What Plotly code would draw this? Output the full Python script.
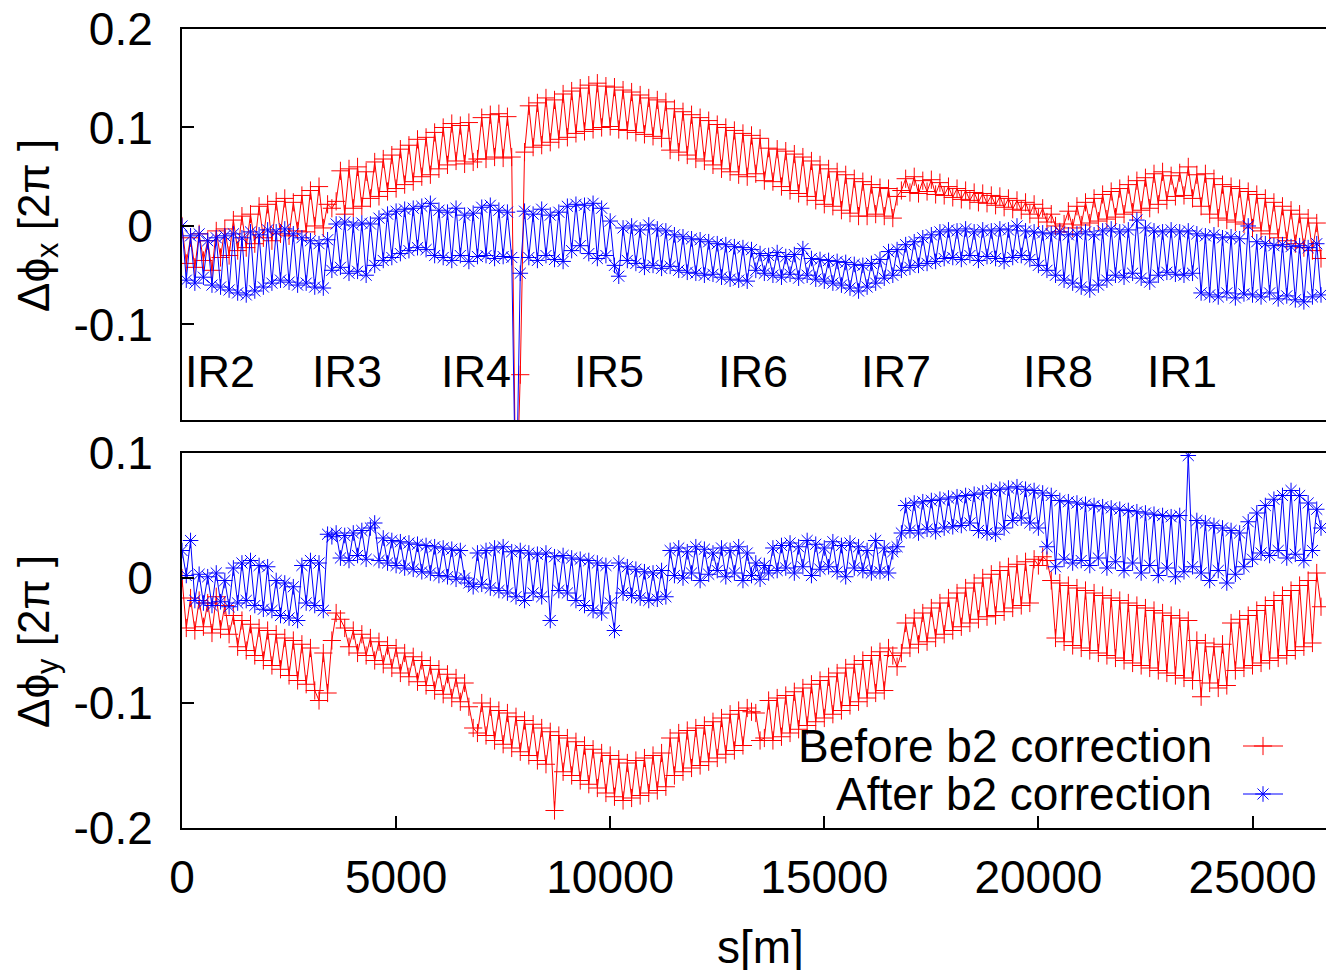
import plotly.graph_objects as go

# ---------------- data ----------------
s = [0, 100, 200, 300, 400, 500, 600, 700, 800, 900,
     1000, 1100, 1200, 1300, 1400, 1500, 1600, 1700, 1800, 1900,
     2000, 2100, 2200, 2300, 2400, 2500, 2600, 2700, 2800, 2900,
     3000, 3100, 3200, 3300, 3400, 3500, 3600, 3700, 3800, 3900,
     4000, 4100, 4200, 4300, 4400, 4500, 4600, 4700, 4800, 4900,
     5000, 5100, 5200, 5300, 5400, 5500, 5600, 5700, 5800, 5900,
     6000, 6100, 6200, 6300, 6400, 6500, 6600, 6700, 6800, 6900,
     7000, 7100, 7200, 7300, 7400, 7500, 7600, 7700, 7800, 7900,
     8000, 8100, 8200, 8300, 8400, 8500, 8600, 8700, 8800, 8900,
     9000, 9100, 9200, 9300, 9400, 9500, 9600, 9700, 9800, 9900,
     10000, 10100, 10200, 10300, 10400, 10500, 10600, 10700, 10800, 10900,
     11000, 11100, 11200, 11300, 11400, 11500, 11600, 11700, 11800, 11900,
     12000, 12100, 12200, 12300, 12400, 12500, 12600, 12700, 12800, 12900,
     13000, 13100, 13200, 13300, 13400, 13500, 13600, 13700, 13800, 13900,
     14000, 14100, 14200, 14300, 14400, 14500, 14600, 14700, 14800, 14900,
     15000, 15100, 15200, 15300, 15400, 15500, 15600, 15700, 15800, 15900,
     16000, 16100, 16200, 16300, 16400, 16500, 16600, 16700, 16800, 16900,
     17000, 17100, 17200, 17300, 17400, 17500, 17600, 17700, 17800, 17900,
     18000, 18100, 18200, 18300, 18400, 18500, 18600, 18700, 18800, 18900,
     19000, 19100, 19200, 19300, 19400, 19500, 19600, 19700, 19800, 19900,
     20000, 20100, 20200, 20300, 20400, 20500, 20600, 20700, 20800, 20900,
     21000, 21100, 21200, 21300, 21400, 21500, 21600, 21700, 21800, 21900,
     22000, 22100, 22200, 22300, 22400, 22500, 22600, 22700, 22800, 22900,
     23000, 23100, 23200, 23300, 23400, 23500, 23600, 23700, 23800, 23900,
     24000, 24100, 24200, 24300, 24400, 24500, 24600, 24700, 24800, 24900,
     25000, 25100, 25200, 25300, 25400, 25500, 25600, 25700, 25800, 25900,
     26000, 26100, 26200, 26300, 26400, 26500, 26600]

# horizontal phase beat, before b2 correction
dphix_before = [
    0.000, -0.038, -0.012, -0.042, -0.008, -0.035, -0.015, -0.045, -0.005, -0.032,
    -0.003, -0.030, 0.006, -0.025, 0.010, -0.022, 0.012, -0.018, 0.020, -0.012,
    0.022, -0.015, 0.025, -0.008, 0.028, -0.010, 0.024, -0.005, 0.031, -0.006,
    0.036, 0.000, 0.040, -0.002, 0.022, 0.018, 0.025, 0.056, 0.012, 0.058,
    0.018, 0.060, 0.020, 0.055, 0.028, 0.065, 0.030, 0.068, 0.035, 0.072,
    0.038, 0.078, 0.042, 0.082, 0.045, 0.088, 0.050, 0.090, 0.052, 0.095,
    0.058, 0.100, 0.062, 0.104, 0.066, 0.102, 0.063, 0.105, 0.065, 0.068,
    0.110, 0.068, 0.113, 0.070, 0.114, 0.069, 0.111, 0.070, -0.300, -0.151,
    0.075, 0.122, 0.080, 0.125, 0.082, 0.130, 0.085, 0.128, 0.088, 0.134,
    0.090, 0.137, 0.094, 0.140, 0.096, 0.143, 0.098, 0.145, 0.100, 0.142,
    0.101, 0.141, 0.098, 0.138, 0.097, 0.136, 0.095, 0.133, 0.093, 0.130,
    0.091, 0.128, 0.089, 0.126, 0.077, 0.119, 0.075, 0.116, 0.072, 0.113,
    0.068, 0.110, 0.066, 0.107, 0.062, 0.103, 0.058, 0.100, 0.055, 0.097,
    0.052, 0.094, 0.050, 0.092, 0.053, 0.089, 0.046, 0.079, 0.045, 0.078,
    0.040, 0.076, 0.036, 0.073, 0.033, 0.070, 0.030, 0.066, 0.026, 0.062,
    0.022, 0.058, 0.020, 0.055, 0.016, 0.052, 0.013, 0.048, 0.010, 0.045,
    0.010, 0.042, 0.012, 0.039, 0.010, 0.038, 0.008, 0.030, 0.036, 0.048,
    0.034, 0.050, 0.033, 0.046, 0.035, 0.047, 0.032, 0.044, 0.031, 0.040,
    0.029, 0.038, 0.027, 0.036, 0.026, 0.034, 0.024, 0.033, 0.023, 0.031,
    0.021, 0.030, 0.019, 0.028, 0.017, 0.026, 0.016, 0.024, 0.012, 0.022,
    0.008, 0.018, 0.004, 0.012, 0.000, -0.006, 0.002, 0.015, -0.002, 0.020,
    0.001, 0.024, 0.003, 0.028, 0.005, 0.032, 0.007, 0.035, 0.009, 0.038,
    0.012, 0.042, 0.014, 0.046, 0.016, 0.049, 0.018, 0.053, 0.022, 0.055,
    0.026, 0.051, 0.030, 0.054, 0.031, 0.060, 0.028, 0.052, 0.020, 0.053,
    0.012, 0.048, 0.008, 0.042, 0.006, 0.040, 0.004, 0.038, 0.002, 0.035,
    -0.002, 0.032, -0.005, 0.028, -0.008, 0.024, -0.012, 0.020, -0.015, 0.016,
    -0.018, 0.012, -0.022, 0.008, -0.025, 0.003, -0.033]

# horizontal phase beat, after b2 correction
dphix_after = [
    0.000, -0.055, -0.010, -0.058, -0.008, -0.052, -0.015, -0.060, -0.012, -0.062,
    -0.010, -0.065, -0.008, -0.068, -0.012, -0.070, -0.006, -0.066, -0.009, -0.062,
    -0.004, -0.058, -0.006, -0.055, -0.003, -0.057, -0.008, -0.060, -0.012, -0.058,
    -0.015, -0.062, -0.018, -0.063, -0.014, -0.045, 0.002, -0.042, 0.004, -0.048,
    0.001, -0.046, 0.003, -0.050, 0.002, -0.040, 0.008, -0.035, 0.012, -0.032,
    0.015, -0.028, 0.017, -0.025, 0.018, -0.022, 0.020, -0.024, 0.023, -0.030,
    0.016, -0.032, 0.014, -0.035, 0.018, -0.030, 0.011, -0.036, 0.013, -0.031,
    0.019, -0.030, 0.021, -0.033, 0.016, -0.031, 0.014, -0.032, -0.300, -0.048,
    0.015, -0.032, 0.012, -0.035, 0.017, -0.030, 0.011, -0.034, 0.014, -0.036,
    0.020, -0.025, 0.022, -0.020, 0.021, -0.028, 0.023, -0.033, 0.018, -0.030,
    0.005, -0.040, -0.051, -0.002, -0.035, 0.000, -0.038, -0.004, -0.042, 0.001,
    -0.040, -0.003, -0.043, -0.005, -0.041, -0.009, -0.045, -0.011, -0.047, -0.013,
    -0.048, -0.014, -0.050, -0.016, -0.049, -0.018, -0.052, -0.019, -0.054, -0.021,
    -0.055, -0.022, -0.056, -0.024, -0.045, -0.028, -0.048, -0.030, -0.050, -0.027,
    -0.052, -0.031, -0.049, -0.029, -0.053, -0.023, -0.050, -0.033, -0.054, -0.034,
    -0.056, -0.035, -0.058, -0.036, -0.060, -0.037, -0.063, -0.039, -0.066, -0.040,
    -0.062, -0.038, -0.058, -0.034, -0.053, -0.026, -0.050, -0.024, -0.045, -0.019,
    -0.042, -0.016, -0.040, -0.012, -0.038, -0.009, -0.036, -0.006, -0.033, -0.004,
    -0.032, -0.005, -0.034, -0.003, -0.030, -0.006, -0.035, -0.004, -0.031, -0.005,
    -0.033, -0.003, -0.036, -0.004, -0.032, 0.000, -0.030, -0.005, -0.034, -0.006,
    -0.040, -0.007, -0.045, -0.008, -0.050, -0.006, -0.055, -0.009, -0.058, -0.008,
    -0.062, -0.006, -0.065, -0.009, -0.060, -0.005, -0.055, -0.003, -0.050, -0.006,
    -0.052, -0.004, -0.048, 0.006, -0.053, -0.002, -0.057, -0.005, -0.050, -0.006,
    -0.047, -0.004, -0.049, -0.006, -0.050, -0.005, -0.048, -0.008, -0.068, -0.010,
    -0.070, -0.009, -0.072, -0.012, -0.068, -0.011, -0.073, -0.013, -0.069, 0.000,
    -0.070, -0.016, -0.072, -0.018, -0.068, -0.020, -0.074, -0.019, -0.071, -0.021,
    -0.075, -0.020, -0.077, -0.022, -0.072, -0.018, -0.070]

# vertical phase beat, before b2 correction
dphiy_before = [
    0.000, -0.040, -0.016, -0.042, -0.018, -0.039, -0.020, -0.044, -0.015, -0.041,
    -0.022, -0.045, -0.030, -0.055, -0.034, -0.058, -0.037, -0.062, -0.040, -0.066,
    -0.042, -0.070, -0.045, -0.073, -0.048, -0.078, -0.050, -0.082, -0.053, -0.085,
    -0.056, -0.090, -0.098, -0.060, -0.092, -0.050, -0.028, -0.033, -0.040, -0.055,
    -0.042, -0.060, -0.045, -0.062, -0.048, -0.066, -0.051, -0.069, -0.054, -0.072,
    -0.056, -0.076, -0.060, -0.079, -0.063, -0.083, -0.066, -0.086, -0.070, -0.090,
    -0.073, -0.093, -0.077, -0.096, -0.080, -0.099, -0.084, -0.103, -0.120, -0.124,
    -0.100, -0.126, -0.103, -0.130, -0.106, -0.133, -0.108, -0.136, -0.111, -0.139,
    -0.114, -0.142, -0.117, -0.146, -0.120, -0.149, -0.123, -0.186, -0.126, -0.155,
    -0.128, -0.158, -0.131, -0.162, -0.134, -0.165, -0.137, -0.168, -0.140, -0.172,
    -0.142, -0.175, -0.145, -0.178, -0.148, -0.176, -0.146, -0.174, -0.144, -0.172,
    -0.142, -0.170, -0.140, -0.167, -0.128, -0.158, -0.124, -0.155, -0.122, -0.152,
    -0.120, -0.150, -0.118, -0.147, -0.115, -0.144, -0.112, -0.141, -0.109, -0.138,
    -0.106, -0.134, -0.104, -0.107, -0.108, -0.130, -0.128, -0.098, -0.130, -0.096,
    -0.127, -0.094, -0.124, -0.091, -0.121, -0.088, -0.118, -0.085, -0.115, -0.082,
    -0.112, -0.079, -0.109, -0.076, -0.106, -0.072, -0.102, -0.069, -0.099, -0.066,
    -0.096, -0.062, -0.092, -0.059, -0.090, -0.056, -0.062, -0.071, -0.060, -0.036,
    -0.056, -0.032, -0.053, -0.028, -0.051, -0.024, -0.048, -0.020, -0.045, -0.016,
    -0.042, -0.012, -0.039, -0.008, -0.036, -0.004, -0.033, 0.000, -0.031, 0.003,
    -0.030, 0.006, -0.027, 0.009, -0.024, 0.011, -0.022, 0.013, -0.020, 0.015,
    0.010, 0.017, 0.014, -0.002, -0.048, -0.004, -0.051, -0.006, -0.054, -0.008,
    -0.056, -0.010, -0.058, -0.012, -0.060, -0.014, -0.062, -0.016, -0.064, -0.018,
    -0.066, -0.020, -0.068, -0.022, -0.070, -0.024, -0.072, -0.026, -0.074, -0.028,
    -0.076, -0.030, -0.078, -0.032, -0.080, -0.034, -0.082, -0.050, -0.095, -0.052,
    -0.084, -0.055, -0.088, -0.053, -0.086, -0.036, -0.074, -0.033, -0.072, -0.030,
    -0.070, -0.026, -0.068, -0.022, -0.066, -0.018, -0.064, -0.014, -0.062, -0.010,
    -0.058, -0.006, -0.055, -0.002, -0.052, 0.004, -0.023]

# vertical phase beat, after b2 correction
dphiy_after = [
    0.022, 0.002, 0.030, -0.018, 0.003, -0.020, 0.001, -0.022, 0.004, -0.019,
    -0.002, -0.023, 0.008, -0.020, 0.012, -0.018, 0.014, -0.022, 0.010, -0.025,
    0.009, -0.026, -0.002, -0.030, -0.004, -0.032, -0.007, -0.034, 0.010, -0.020,
    0.014, -0.022, 0.012, -0.026, 0.035, 0.033, 0.036, 0.016, 0.034, 0.014,
    0.036, 0.018, 0.038, 0.015, 0.040, 0.044, 0.014, 0.032, 0.012, 0.030,
    0.010, 0.029, 0.008, 0.028, 0.007, 0.027, 0.005, 0.026, 0.004, 0.025,
    0.002, 0.024, 0.001, 0.023, -0.001, 0.022, 0.000, -0.004, -0.007, 0.020,
    -0.005, 0.022, -0.008, 0.024, -0.010, 0.025, -0.012, 0.021, -0.015, 0.022,
    -0.018, 0.020, -0.012, 0.019, -0.015, 0.020, -0.034, 0.017, -0.010, 0.018,
    -0.012, 0.016, -0.018, 0.015, -0.022, 0.014, -0.026, 0.012, -0.028, 0.010,
    -0.020, -0.042, 0.012, -0.012, 0.009, -0.014, 0.007, -0.016, 0.005, -0.018,
    0.004, -0.017, 0.006, -0.015, 0.022, 0.002, 0.024, 0.000, 0.021, 0.004,
    0.025, -0.002, 0.023, 0.003, 0.020, 0.006, 0.024, 0.001, 0.022, 0.004,
    0.025, -0.002, 0.020, 0.002, 0.012, -0.001, 0.010, 0.004, 0.024, 0.006,
    0.026, 0.008, 0.028, 0.004, 0.025, 0.009, 0.030, 0.002, 0.027, 0.007,
    0.024, 0.009, 0.029, 0.005, 0.026, 0.001, 0.028, 0.008, 0.025, 0.006,
    0.022, 0.004, 0.030, 0.005, 0.024, 0.004, 0.021, 0.025, 0.036, 0.058,
    0.038, 0.060, 0.036, 0.061, 0.039, 0.062, 0.037, 0.063, 0.040, 0.064,
    0.041, 0.065, 0.042, 0.066, 0.044, 0.067, 0.038, 0.068, 0.036, 0.070,
    0.035, 0.071, 0.040, 0.072, 0.046, 0.073, 0.048, 0.071, 0.044, 0.070,
    0.040, 0.068, 0.025, 0.066, 0.009, 0.062, 0.015, 0.061, 0.012, 0.060,
    0.014, 0.059, 0.010, 0.058, 0.016, 0.057, 0.008, 0.056, 0.013, 0.055,
    0.006, 0.054, 0.012, 0.053, 0.004, 0.052, 0.010, 0.051, 0.002, 0.050,
    0.008, 0.049, 0.001, 0.050, 0.005, 0.098, 0.009, 0.046, 0.004, 0.044,
    -0.002, 0.042, 0.006, 0.040, -0.004, 0.038, 0.003, 0.036, 0.009, 0.045,
    0.015, 0.052, 0.020, 0.058, 0.018, 0.063, 0.022, 0.066, 0.016, 0.070,
    0.019, 0.066, 0.014, 0.060, 0.022, 0.055, 0.040]

ir_names = ["IR2", "IR3", "IR4", "IR5", "IR6", "IR7", "IR8", "IR1"]
ir_s = [20, 3000, 6000, 9100, 12480, 15800, 19600, 22500]

x_tickvals = [0, 5000, 10000, 15000, 20000, 25000]
x_ticktext = ["0", "5000", "10000", "15000", "20000", "25000"]
y_top_tickvals = [-0.1, 0, 0.1, 0.2]
y_top_ticktext = ["-0.1", "0", "0.1", "0.2"]
y_bot_tickvals = [-0.2, -0.1, 0, 0.1]
y_bot_ticktext = ["-0.2", "-0.1", "0", "0.1"]

series_names = ["Before b2 correction", "After b2 correction"]

# ---------------- style ----------------
FONT = "Liberation Sans, Arial, Helvetica, sans-serif"
RED = "#ff0000"
BLUE = "#0000ff"
W, H = 1326, 970
ML, MR, MT, MB = 182, 0, 29, 142
PW, PH = W - ML - MR, H - MT - MB

def ydom(top_px, bot_px):
    return [(H - MB - bot_px) / PH, (H - MB - top_px) / PH]

red_marker = dict(symbol="cross-thin", size=13, color=RED, line=dict(color=RED, width=1))
blue_marker = dict(symbol="asterisk", size=13, color=BLUE, line=dict(color=BLUE, width=1))
red_line = dict(color=RED, width=1)
blue_line = dict(color=BLUE, width=1)

fig = go.Figure()
fig.add_trace(go.Scatter(x=s, y=dphix_before, mode="lines+markers", line=red_line,
                         marker=red_marker, xaxis="x", yaxis="y", showlegend=False))
fig.add_trace(go.Scatter(x=s, y=dphix_after, mode="lines+markers", line=blue_line,
                         marker=blue_marker, xaxis="x", yaxis="y", showlegend=False))
fig.add_trace(go.Scatter(x=s, y=dphiy_before, mode="lines+markers", line=red_line,
                         marker=red_marker, xaxis="x2", yaxis="y2", showlegend=False))
fig.add_trace(go.Scatter(x=s, y=dphiy_after, mode="lines+markers", line=blue_line,
                         marker=blue_marker, xaxis="x2", yaxis="y2", showlegend=False))

# legend samples (gnuplot style: sample on the right of the text) on a pixel-space overlay axis
legend_rows_px = [746, 794]
fig.add_trace(go.Scatter(x=[1243, 1283], y=[legend_rows_px[0]] * 2, mode="lines", line=red_line,
                         xaxis="x3", yaxis="y3", showlegend=False, hoverinfo="skip"))
fig.add_trace(go.Scatter(x=[1263], y=[legend_rows_px[0]], mode="markers", marker=red_marker,
                         xaxis="x3", yaxis="y3", showlegend=False, hoverinfo="skip"))
fig.add_trace(go.Scatter(x=[1243, 1283], y=[legend_rows_px[1]] * 2, mode="lines", line=blue_line,
                         xaxis="x3", yaxis="y3", showlegend=False, hoverinfo="skip"))
fig.add_trace(go.Scatter(x=[1263], y=[legend_rows_px[1]], mode="markers", marker=blue_marker,
                         xaxis="x3", yaxis="y3", showlegend=False, hoverinfo="skip"))

XR = [0, (W - ML) / 214.1 * 5000]
tickfont = dict(family=FONT, size=46, color="black")

common_x = dict(range=XR, showgrid=False, zeroline=False, showline=True, linecolor="black",
                linewidth=2, mirror=True, tickvals=x_tickvals, ticktext=x_ticktext,
                tickfont=tickfont, tickcolor="black", ticklen=12, tickwidth=2)
common_y = dict(showgrid=False, zeroline=False, showline=True, linecolor="black",
                linewidth=2, mirror=False, tickfont=tickfont, ticks="inside",
                tickcolor="black", ticklen=12, tickwidth=2, ticklabelstandoff=18)

fig.update_layout(
    width=W, height=H,
    margin=dict(l=ML, r=MR, t=MT, b=MB),
    paper_bgcolor="white", plot_bgcolor="rgba(0,0,0,0)",
    showlegend=False,
    xaxis=dict(common_x, anchor="y", domain=[0, 1], ticks="", showticklabels=False),
    yaxis=dict(common_y, anchor="x", domain=ydom(29, 420), range=[-0.197, 0.2],
               tickvals=y_top_tickvals, ticktext=y_top_ticktext),
    xaxis2=dict(common_x, anchor="y2", domain=[0, 1], ticks="inside", ticklabelstandoff=8),
    yaxis2=dict(common_y, anchor="x2", domain=ydom(453, 828), range=[-0.2, 0.1],
                tickvals=y_bot_tickvals, ticktext=y_bot_ticktext),
    xaxis3=dict(anchor="y3", domain=[0, 1], range=[ML, W], visible=False, fixedrange=True),
    yaxis3=dict(anchor="x3", domain=[0, 1], range=[H - MB, MT], visible=False, fixedrange=True),
)

ann = []
for name, sx in zip(ir_names, ir_s):
    ann.append(dict(x=sx, y=-0.148, xref="x", yref="y", text=name, showarrow=False,
                    xanchor="left", yanchor="middle",
                    font=dict(family=FONT, size=45, color="black")))

def px_x(px):
    return (px - ML) / PW

def px_y(py):
    return (H - MB - py) / PH

# legend texts
for name, py in zip(series_names, legend_rows_px):
    ann.append(dict(x=px_x(1214), y=px_y(py), xref="paper", yref="paper", text=name,
                    showarrow=False, xanchor="right", yanchor="middle",
                    font=dict(family=FONT, size=46, color="black")))

# axis titles
ann.append(dict(x=px_x(37), y=px_y(226), xref="paper", yref="paper",
                text="Δϕ<sub>x</sub> [2π ]", textangle=-90, showarrow=False,
                xanchor="center", yanchor="middle", font=dict(family=FONT, size=44, color="black")))
ann.append(dict(x=px_x(37), y=px_y(642), xref="paper", yref="paper",
                text="Δϕ<sub>y</sub> [2π ]", textangle=-90, showarrow=False,
                xanchor="center", yanchor="middle", font=dict(family=FONT, size=44, color="black")))
ann.append(dict(x=px_x(760), y=px_y(947), xref="paper", yref="paper", text="s[m]",
                showarrow=False, xanchor="center", yanchor="middle",
                font=dict(family=FONT, size=46, color="black")))
fig.update_layout(annotations=ann)

fig.write_html("out.html")
